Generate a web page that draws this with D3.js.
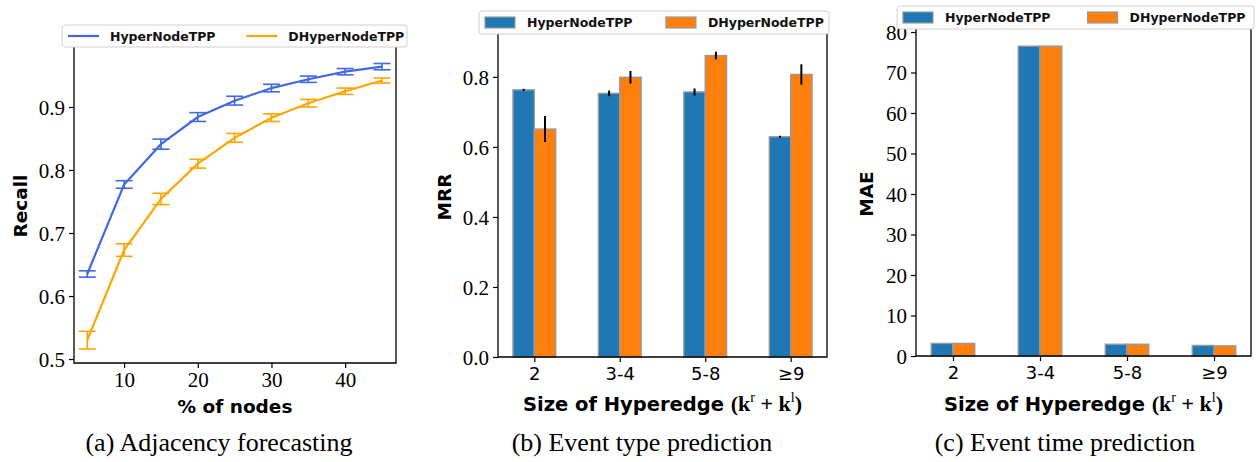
<!DOCTYPE html>
<html>
<head>
<meta charset="utf-8">
<script src="https://cdn.jsdelivr.net/npm/d3@7"></script>
<style>
body { margin: 0; background: #fff; }
svg { display: block; }
.tk text { font-family: "Liberation Serif", serif; font-size: 21px; fill: #000; }
.tk line { stroke: #000; stroke-width: 1.2; }
.tk path { display: none; }
.tk.cat text { font-family: "DejaVu Sans", sans-serif; font-size: 18px; }
.lab { font-family: "DejaVu Sans", sans-serif; font-weight: bold; font-size: 18.5px; fill: #000; }
.leg { font-family: "DejaVu Sans", sans-serif; font-weight: bold; font-size: 12.5px; fill: #111; }
.cap { font-family: "Liberation Serif", serif; font-size: 26px; fill: #000; }
</style>
</head>
<body>
<div id="fig"></div>
<script>
(function() {
"use strict"

// (a) adjacency forecasting
var pctNodes = [5, 10, 15, 20, 25, 30, 35, 40, 45];
var recallHyper = [0.635, 0.777, 0.841, 0.884, 0.910, 0.930, 0.944, 0.956, 0.964];
var recallHyperErr = [0.005, 0.006, 0.008, 0.007, 0.007, 0.006, 0.005, 0.005, 0.005];
var recallDHyper = [0.530, 0.673, 0.754, 0.810, 0.851, 0.883, 0.906, 0.925, 0.942];
var recallDHyperErr = [0.014, 0.010, 0.009, 0.007, 0.007, 0.006, 0.006, 0.005, 0.004];
var recallTicks = [0.5, 0.6, 0.7, 0.8, 0.9];
var pctTicks = [10, 20, 30, 40];

// (b) and (c) share the hyperedge size categories
var sizeCats = ["2", "3-4", "5-8", "\u22659"];
var mrrHyper = [0.763, 0.753, 0.757, 0.629];
var mrrHyperErr = [0.003, 0.008, 0.010, 0.003];
var mrrDHyper = [0.651, 0.799, 0.861, 0.807];
var mrrDHyperErr = [0.037, 0.018, 0.011, 0.029];
var mrrTicks = [0.0, 0.2, 0.4, 0.6, 0.8];

var maeHyper = [3.1, 76.5, 2.9, 2.6];
var maeDHyper = [3.1, 76.5, 2.9, 2.5];
var maeTicks = [0, 10, 20, 30, 40, 50, 60, 70, 80];

var seriesNames = ["HyperNodeTPP", "DHyperNodeTPP"];

var W = 1256, H = 462;
var svg = d3.select("#fig").append("svg").attr("width", W).attr("height", H);

var frame = function(g, x0, x1, y0, y1) {
    //left, bottom and right spines; top one sits under the legend
    g.append("path")
        .attr("d", "M" + x0 + "," + y0 + "V" + y1 + "H" + x1 + "V" + y0)
        .attr("fill", "none").attr("stroke", "#000").attr("stroke-width", 1.3);
};

var legend = function(g, x, y, w, h, kind, colors) {
    g.append("rect").attr("x", x).attr("y", y).attr("width", w).attr("height", h)
        .attr("rx", 3).attr("fill", "#fff").attr("stroke", "#d0d0d0").attr("stroke-width", 1);
    var offs = [0, w * 0.517];
    seriesNames.forEach(function(name, i) {
        var lx = x + 6 + offs[i], cy = y + h / 2;
        if (kind === "line") {
            g.append("line").attr("x1", lx).attr("x2", lx + 31).attr("y1", cy).attr("y2", cy)
                .attr("stroke", colors[i]).attr("stroke-width", 2.2);
        } else {
            g.append("rect").attr("x", lx).attr("y", cy - 5.5).attr("width", 30).attr("height", 11)
                .attr("fill", colors[i]).attr("stroke", "#999").attr("stroke-width", 1.2);
        }
        g.append("text").attr("class", "leg").attr("x", lx + 42).attr("y", cy + 4.5).text(name);
    });
};

// ---------- (a) ----------
(function() {
    var g = svg.append("g");
    var x = d3.scaleLinear().domain([3.2, 46.9]).range([74, 396]);
    var y = d3.scaleLinear().domain([0.4937, 0.992]).range([363, 49]);
    var colors = ["#4169E1", "#FFA500"];

    g.append("g").attr("class", "tk").attr("transform", "translate(0,363)")
        .call(d3.axisBottom(x).tickValues(pctTicks).tickSize(5).tickPadding(4));
    g.append("g").attr("class", "tk").attr("transform", "translate(74,0)")
        .call(d3.axisLeft(y).tickValues(recallTicks).tickFormat(d3.format(".1f")).tickSize(5).tickPadding(4))
        .selectAll("text").attr("dy", "0.34em");

    var series = [[recallHyper, recallHyperErr], [recallDHyper, recallDHyperErr]];
    series.forEach(function(s, si) {
        var pts = pctNodes.map(function(p, i) { return [p, s[0][i], s[1][i]]; });
        g.append("path").datum(pts)
            .attr("d", d3.line().x(function(d) { return x(d[0]); }).y(function(d) { return y(d[1]); }))
            .attr("fill", "none").attr("stroke", colors[si]).attr("stroke-width", 2.2);
        var eb = g.append("g").attr("stroke", colors[si]).attr("stroke-width", 1.6);
        pts.forEach(function(d) {
            var cx = x(d[0]), lo = y(d[1] - d[2]), hi = y(d[1] + d[2]);
            eb.append("line").attr("x1", cx).attr("x2", cx).attr("y1", lo).attr("y2", hi);
            eb.append("line").attr("x1", cx - 8.5).attr("x2", cx + 8.5).attr("y1", lo).attr("y2", lo);
            eb.append("line").attr("x1", cx - 8.5).attr("x2", cx + 8.5).attr("y1", hi).attr("y2", hi);
        });
    });

    frame(g, 74, 396, 47, 363);
    legend(g, 62, 25, 345, 22, "line", colors);

    g.append("text").attr("class", "lab").attr("text-anchor", "middle")
        .attr("transform", "translate(27,206) rotate(-90)").text("Recall");
    g.append("text").attr("class", "lab").attr("text-anchor", "middle")
        .attr("x", 235).attr("y", 413).text("% of nodes");
    g.append("text").attr("class", "cap").attr("text-anchor", "middle")
        .attr("x", 219).attr("y", 451).text("(a) Adjacency forecasting");
})();

var colorsBar = ["#1f77b4", "#ff7f0e"];

var sizeLabel = function(g, cx, cy) {
    var t = g.append("text").attr("class", "lab").attr("text-anchor", "middle")
        .attr("x", cx).attr("y", cy).style("font-size", "19.5px");
    t.append("tspan").text("Size of Hyperedge ");
    var ser = "font-family:'Liberation Serif',serif;font-weight:bold;font-size:22px";
    t.append("tspan").attr("style", ser).text("(k");
    t.append("tspan").attr("style", ser + ";font-size:14px;font-weight:normal").attr("dy", -9).text("r");
    t.append("tspan").attr("style", ser).attr("dy", 9).text(" + k");
    t.append("tspan").attr("style", ser + ";font-size:14px;font-weight:normal").attr("dy", -9).text("l");
    t.append("tspan").attr("style", ser).attr("dy", 9).text(")");
};

var barPanel = function(opt) {
    var g = svg.append("g");
    var x = d3.scaleLinear().domain([-0.425, 3.425]).range([opt.x0, opt.x1]);
    var y = d3.scaleLinear().domain(opt.ydom).range([opt.y1, opt.y0]);
    var bw = x(0.25) - x(0);

    g.append("g").attr("class", "tk cat").attr("transform", "translate(0," + opt.y1 + ")")
        .call(d3.axisBottom(x).tickValues([0, 1, 2, 3]).tickFormat(function(i) { return sizeCats[i]; })
            .tickSize(5).tickPadding(5));
    g.append("g").attr("class", "tk").attr("transform", "translate(" + opt.x0 + ",0)")
        .call(d3.axisLeft(y).tickValues(opt.ticks).tickFormat(opt.fmt).tickSize(5).tickPadding(4))
        .selectAll("text").attr("dy", "0.34em");

    [opt.a, opt.b].forEach(function(vals, si) {
        var errs = si === 0 ? opt.aErr : opt.bErr;
        vals.forEach(function(v, i) {
            var left = si === 0 ? x(i) - bw : x(i);
            g.append("rect").attr("x", left).attr("y", y(v)).attr("width", bw)
                .attr("height", y(0) - y(v))
                .attr("fill", colorsBar[si]).attr("stroke", "#999").attr("stroke-width", 1.4);
            if (errs) {
                var cx = left + bw / 2;
                g.append("line").attr("x1", cx).attr("x2", cx)
                    .attr("y1", y(v - errs[i])).attr("y2", y(v + errs[i]))
                    .attr("stroke", "#000").attr("stroke-width", 2);
            }
        });
    });

    frame(g, opt.x0, opt.x1, opt.y0 - 3, opt.y1);
    legend(g, opt.lx, opt.ly, opt.lw, 23, "patch", colorsBar);

    g.append("text").attr("class", "lab").attr("text-anchor", "middle")
        .attr("transform", "translate(" + opt.ylx + "," + ((opt.y0 + opt.y1) / 2) + ") rotate(-90)")
        .text(opt.ylab);
    sizeLabel(g, (opt.x0 + opt.x1) / 2, 411);
    g.append("text").attr("class", "cap").attr("text-anchor", "middle")
        .attr("x", opt.capx).attr("y", 451).text(opt.cap);
};

// ---------- (b) ----------
barPanel({
    x0: 498, x1: 827, y0: 37, y1: 357, ydom: [0, 0.914],
    ticks: mrrTicks, fmt: d3.format(".1f"),
    a: mrrHyper, aErr: mrrHyperErr, b: mrrDHyper, bErr: mrrDHyperErr,
    lx: 479, ly: 11, lw: 350, ylx: 451, ylab: "MRR",
    capx: 642, cap: "(b) Event type prediction"
});

// ---------- (c) ----------
barPanel({
    x0: 916, x1: 1251, y0: 32, y1: 356, ydom: [0, 80],
    ticks: maeTicks, fmt: d3.format("d"),
    a: maeHyper, aErr: null, b: maeDHyper, bErr: null,
    lx: 897, ly: 6, lw: 357, ylx: 873, ylab: "MAE",
    capx: 1065, cap: "(c) Event time prediction"
});

})();
</script>
</body>
</html>
